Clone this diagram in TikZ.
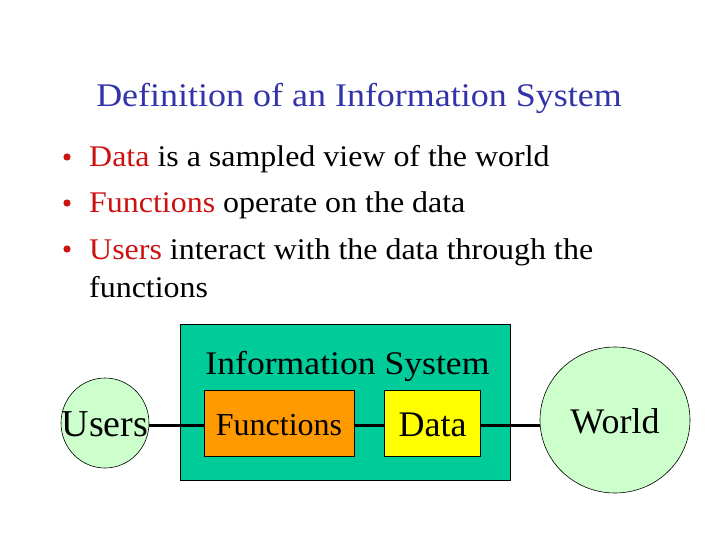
\documentclass[tikz,border=0pt]{standalone}
\usepackage{fontspec}
\setmainfont{Liberation Serif}
\newfontfamily\titlefont[FakeStretch=1.09]{Liberation Serif}
\newfontfamily\bulletfont[FakeStretch=1.065]{Liberation Serif}
\newfontfamily\infofont[FakeStretch=1.08]{Liberation Serif}
\usetikzlibrary{shapes.geometric}
\definecolor{titleblue}{RGB}{51,51,170}
\definecolor{keyred}{RGB}{204,17,17}
\definecolor{isgreen}{RGB}{0,204,153}
\definecolor{funcorange}{RGB}{255,153,0}
\definecolor{datayellow}{RGB}{255,255,0}
\definecolor{palegreen}{RGB}{204,255,204}
\tikzset{
  txt/.style={inner sep=0pt, anchor=base west, font=\bulletfont\fontsize{30}{34}\selectfont},
  lbl/.style={inner sep=0pt, anchor=base},
  circ/.style={ellipse, draw=black, line width=0.6pt, fill=palegreen, inner sep=0pt},
  boxn/.style={draw=black, line width=0.6pt, inner sep=0pt},
  link/.style={line width=3pt, black},
}
\begin{document}
\begin{tikzpicture}[x=1pt,y=-1pt]
\useasboundingbox (0,0) rectangle (720,540);
\fill[white] (0,0) rectangle (720,540);
% title
\node[lbl, text=titleblue, font=\titlefont\fontsize{33}{38}\selectfont] (title) at (359,107) {Definition of an Information System};
% bullets
\foreach \y in {157,203,249}{
  \fill[keyred] (67,\y) circle (3.6pt);
}
\node[txt] (l1) at (89,167) {\textcolor{keyred}{Data} is a sampled view of the world};
\node[txt] (l2) at (89,213) {\textcolor{keyred}{Functions} operate on the data};
\node[txt] (l3) at (89,259) {\textcolor{keyred}{Users} interact with the data through the};
\node[txt] (l4) at (89,297) {functions};
% diagram
\node[boxn, fill=isgreen, minimum width=330pt, minimum height=156pt] (is) at (345,402) {};
\node[lbl, font=\infofont\fontsize{33}{38}\selectfont] (istext) at (347.5,374) {Information System};
\node[boxn, fill=funcorange, minimum width=150pt, minimum height=66pt] (func) at (279,423) {};
\node[lbl, font=\fontsize{32}{36}\selectfont] (functext) at (279,435) {Functions};
\node[boxn, fill=datayellow, minimum width=96pt, minimum height=66pt] (data) at (432,423) {};
\node[lbl, font=\fontsize{36}{40}\selectfont] (datatext) at (432.5,436) {Data};
\node[circ, minimum width=88pt, minimum height=90pt] (users) at (105,423) {};
\node[lbl, font=\fontsize{38}{42}\selectfont] (userstext) at (105,436) {Users};
\node[circ, minimum width=150pt, minimum height=146pt] (world) at (615,420) {};
\node[lbl, font=\fontsize{36}{40}\selectfont] (worldtext) at (615,433) {World};
% connectors
\draw[link] ([yshift=-2pt]users.east) -- ([yshift=-2pt]func.west);
\draw[link] ([yshift=-2pt]func.east) -- ([yshift=-2pt]data.west);
\draw[link] ([yshift=-2pt]data.east) -- ([yshift=-2pt]world.west |- data.east);
\end{tikzpicture}
\end{document}
